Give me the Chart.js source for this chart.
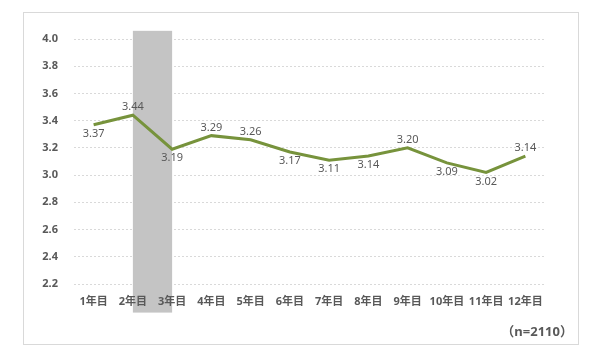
<!DOCTYPE html>
<html><head><meta charset="utf-8">
<script src="https://cdn.jsdelivr.net/npm/chart.js@4"></script>
<style>
html,body{margin:0;padding:0;background:#fff;}
#wrap{position:relative;width:600px;height:356px;}
#frame{position:absolute;left:23px;top:12px;width:554px;height:331px;border:1px solid #d9d9d9;}
#c{position:absolute;left:0;top:0;}
#note{position:absolute;right:27px;top:321px;font:bold 13px 'Noto Sans','Noto Sans CJK JP',sans-serif;color:#595959;}
</style></head><body>
<div id="wrap"><div id="frame"></div><canvas id="c" width="600" height="356"></canvas><div id="note">（n=2110）</div></div>
<script>
const categories = ['1年目','2年目','3年目','4年目','5年目','6年目','7年目','8年目','9年目','10年目','11年目','12年目'];
const values = [3.37,3.44,3.19,3.29,3.26,3.17,3.11,3.14,3.20,3.09,3.02,3.14];
const labelSide = ['below','above','below','above','above','below','below','below','above','below','below','above'];
const yTicks = [2.2,2.4,2.6,2.8,3.0,3.2,3.4,3.6,3.8,4.0];
const bandFrom = 1, bandTo = 2;
const bandTop = 4.06, bandBottom = 1.99;

const FONT = "'Noto Sans','Noto Sans CJK JP',sans-serif";

const bandPlugin = {
  id:'band',
  beforeDatasetsDraw(chart){
    const {ctx, scales:{x,y}} = chart;
    const x1 = x.getPixelForValue(bandFrom), x2 = x.getPixelForValue(bandTo);
    const y1 = y.getPixelForValue(bandTop), y2 = y.getPixelForValue(bandBottom);
    ctx.save();
    ctx.fillStyle = '#c4c4c4';
    ctx.fillRect(x1, y1, x2-x1, y2-y1);
    ctx.restore();
  }
};
const labelPlugin = {
  id:'vlabels',
  afterDatasetsDraw(chart){
    const {ctx} = chart;
    const meta = chart.getDatasetMeta(0);
    ctx.save();
    ctx.font = "11px " + FONT;
    ctx.fillStyle = '#595959';
    ctx.textAlign = 'center';
    ctx.textBaseline = 'middle';
    meta.data.forEach((pt,i)=>{
      const dy = labelSide[i]==='above' ? -8 : 9;
      ctx.fillText(values[i].toFixed(2), pt.x, pt.y+dy);
    });
    ctx.restore();
  }
};

new Chart(document.getElementById('c'), {
  type:'line',
  data:{labels:categories, datasets:[{data:values, borderColor:'#77933c', borderWidth:3, pointRadius:0, tension:0, fill:false}]},
  options:{
    responsive:false, animation:false,
    layout:{padding:{top:39, right:55, left:0, bottom:0}},
    plugins:{legend:{display:false}, tooltip:{enabled:false}},
    scales:{
      x:{
        offset:true,
        grid:{display:false, drawTicks:false},
        border:{display:false},
        ticks:{z:1, padding:11, color:'#595959', font:{family:FONT, size:11, weight:'bold'}, maxRotation:0, autoSkip:false},
        afterFit(s){ s.height = 72; }
      },
      y:{
        min:2.2, max:4.0,
        afterBuildTicks(s){ s.ticks = yTicks.map(v=>({value:v})); },
        grid:{color:'#d9d9d9', drawTicks:false, lineWidth:1},
        border:{display:false, dash:[2,2]},
        ticks:{padding:16, color:'#595959', font:{family:FONT, size:11, weight:'bold'}, callback:v=>v.toFixed(1)},
        afterFit(s){ s.width = 74; }
      }
    }
  },
  plugins:[bandPlugin, labelPlugin]
});
</script>
</body></html>
